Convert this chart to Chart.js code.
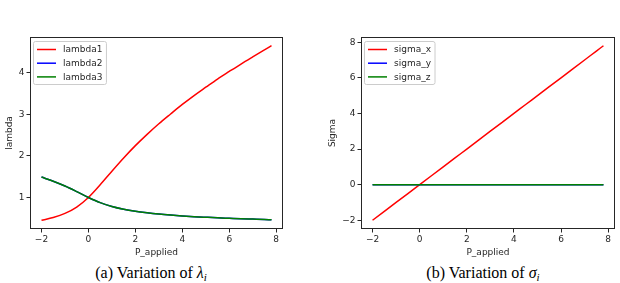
<!DOCTYPE html>
<html>
<head>
<meta charset="utf-8">
<script src="https://cdn.jsdelivr.net/npm/chart.js@4/dist/chart.umd.min.js"></script>
<style>
  html, body { margin: 0; padding: 0; background: #fff; }
  body { width: 620px; height: 283px; position: relative; overflow: hidden; }
  canvas { position: absolute; top: 0; }
  .cap { position: absolute; top: 264px; line-height: 18px; font-family: "Liberation Serif", serif; font-size: 16px; color: #000; white-space: nowrap; transform: translateX(-50%); }
  .cap sub { font-size: 11px; vertical-align: -3px; line-height: 0; }
</style>
</head>
<body>
<canvas id="c1" width="300" height="262" style="left:0px"></canvas>
<canvas id="c2" width="310" height="262" style="left:310px"></canvas>
<div class="cap" style="left:151px">(a) Variation of <i>λ</i><sub><i>i</i></sub></div>
<div class="cap" style="left:483px">(b) Variation of <i>σ</i><sub><i>i</i></sub></div>
<script>
// ---- data ----
const P_applied = [-2, -1.5, -1, -0.5, 0, 0.5, 1, 1.5, 2, 2.5, 3, 3.5, 4, 4.5, 5, 5.5, 6, 6.5, 7, 7.5, 7.8];
const lambda1 = [0.45, 0.517, 0.615, 0.768, 1.0, 1.304, 1.632, 1.95, 2.248, 2.52, 2.775, 3.01, 3.24, 3.455, 3.655, 3.853, 4.035, 4.214, 4.385, 4.553, 4.655];
const lambda2 = [1.491, 1.391, 1.275, 1.141, 1.0, 0.876, 0.783, 0.716, 0.667, 0.630, 0.600, 0.576, 0.556, 0.538, 0.523, 0.509, 0.498, 0.487, 0.478, 0.469, 0.463];
const lambda3 = [1.491, 1.391, 1.275, 1.141, 1.0, 0.876, 0.783, 0.716, 0.667, 0.630, 0.600, 0.576, 0.556, 0.538, 0.523, 0.509, 0.498, 0.487, 0.478, 0.469, 0.463];
const sigma_x = [-2, -1.5, -1, -0.5, 0, 0.5, 1, 1.5, 2, 2.5, 3, 3.5, 4, 4.5, 5, 5.5, 6, 6.5, 7, 7.5, 7.8];
const sigma_y = [0, 0, 0, 0, 0, 0, 0, 0, 0, 0, 0, 0, 0, 0, 0, 0, 0, 0, 0, 0, 0];
const sigma_z = [0, 0, 0, 0, 0, 0, 0, 0, 0, 0, 0, 0, 0, 0, 0, 0, 0, 0, 0, 0, 0];
const xTicks = [-2, 0, 2, 4, 6, 8];
const lambdaTicks = [1, 2, 3, 4];
const sigmaTicks = [-2, 0, 2, 4, 6, 8];
const lambdaLabels = ["lambda1", "lambda2", "lambda3"];
const sigmaLabels = ["sigma_x", "sigma_y", "sigma_z"];
const colors = ["#ff0000", "#0000ff", "#008000"];

const FONT = { family: "DejaVu Sans", size: 9 };
const INK = "#262626";
const fmt = v => String(v).replace("-", "\u2212");

const framePlugin = {
  id: "frame",
  afterDraw(chart) {
    const { ctx, chartArea: a } = chart;
    ctx.save();
    ctx.strokeStyle = INK;
    ctx.lineWidth = 1;
    ctx.strokeRect(Math.round(a.left) + 0.5, Math.round(a.top) + 0.5,
                   Math.round(a.right - a.left) - 1, Math.round(a.bottom - a.top) - 1);
    // legend
    const sets = chart.data.datasets;
    ctx.font = FONT.size + "px " + FONT.family;
    let maxW = 0;
    sets.forEach(d => { maxW = Math.max(maxW, ctx.measureText(d.label).width); });
    const bx = a.left + 3.5, by = a.top + 4.5;
    const bw = 29.5 + maxW + 4, bh = 43;
    const r = 2;
    ctx.beginPath();
    ctx.moveTo(bx + r, by);
    ctx.arcTo(bx + bw, by, bx + bw, by + bh, r);
    ctx.arcTo(bx + bw, by + bh, bx, by + bh, r);
    ctx.arcTo(bx, by + bh, bx, by, r);
    ctx.arcTo(bx, by, bx + bw, by, r);
    ctx.closePath();
    ctx.fillStyle = "rgba(255,255,255,0.8)";
    ctx.fill();
    ctx.strokeStyle = "#cccccc";
    ctx.stroke();
    sets.forEach((d, i) => {
      const y = by + 8 + i * 13.7;
      ctx.beginPath();
      ctx.strokeStyle = d.borderColor;
      ctx.lineWidth = 1.5;
      ctx.moveTo(bx + 3.5, y);
      ctx.lineTo(bx + 22.5, y);
      ctx.stroke();
      ctx.fillStyle = INK;
      ctx.textBaseline = "middle";
      ctx.textAlign = "left";
      ctx.fillText(d.label, bx + 29.5, y + 0.5);
    });
    ctx.restore();
  }
};

function makeChart(id, labels, series, yTicks, yTitle, yMin, yMax, padLeft, axisW, padRight) {
  const datasets = series.map((s, i) => ({
    label: labels[i],
    data: P_applied.map((x, k) => ({ x: x, y: s[k] })),
    borderColor: colors[i],
    backgroundColor: colors[i],
    borderWidth: 1.5,
    pointRadius: 0,
    fill: false,
    cubicInterpolationMode: "monotone",
    order: 2 - i
  }));
  const tickGrid = { display: true, drawOnChartArea: false, drawTicks: true, tickLength: 3.5, color: INK, lineWidth: 1 };
  return new Chart(document.getElementById(id), {
    type: "line",
    data: { datasets },
    plugins: [framePlugin],
    options: {
      responsive: false,
      devicePixelRatio: 1,
      animation: false,
      layout: { padding: { left: padLeft, top: 37, right: padRight, bottom: 0 } },
      plugins: { legend: { display: false }, tooltip: { enabled: false } },
      scales: {
        x: {
          type: "linear", min: -2.49, max: 8.29,
          grid: tickGrid,
          border: { display: false },
          afterBuildTicks: s => { s.ticks = xTicks.map(v => ({ value: v })); },
          afterFit: s => { s.height = 33; },
          ticks: { font: FONT, color: INK, padding: 2, maxRotation: 0, autoSkip: false, callback: v => fmt(v) },
          title: { display: true, text: "P_applied", font: FONT, color: INK, padding: { top: 2, bottom: 4 } }
        },
        y: {
          type: "linear", min: yMin, max: yMax,
          grid: tickGrid,
          border: { display: false },
          afterBuildTicks: s => { s.ticks = yTicks.map(v => ({ value: v })); },
          afterFit: s => { s.width = axisW; },
          ticks: { font: FONT, color: INK, padding: 2, autoSkip: false, callback: v => fmt(v) },
          title: { display: true, text: yTitle, font: FONT, color: INK, padding: { top: 4, bottom: 2 } }
        }
      }
    }
  });
}

makeChart("c1", lambdaLabels, [lambda1, lambda2, lambda3], lambdaTicks, "lambda", 0.24, 4.865, 0, 30, 17);
makeChart("c2", sigmaLabels, [sigma_x, sigma_y, sigma_z], sigmaTicks, "Sigma", -2.49, 8.29, 13, 38, 5);
</script>
</body>
</html>
